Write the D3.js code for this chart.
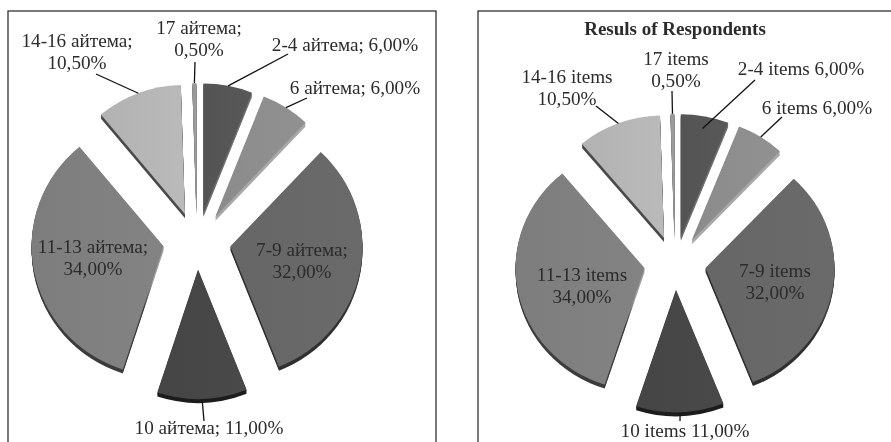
<!DOCTYPE html>
<html>
<head>
<meta charset="utf-8">
<script src="https://cdn.jsdelivr.net/npm/d3@7"></script>
<style>
  html, body { margin: 0; padding: 0; background: #fff; }
  svg { display: block; filter: blur(0.35px); }
  text { font-family: "Liberation Serif", serif; fill: #2b2b2b; }
</style>
</head>
<body>
<svg id="chart" width="891" height="442"></svg>
<script>
// Data ------------------------------------------
var values = [6, 6, 32, 11, 34, 10.5, 0.5];
var percentLabels = ["6,00%", "6,00%", "32,00%", "11,00%", "34,00%", "10,50%", "0,50%"];
var groupsKz = ["2-4 айтема", "6 айтема", "7-9 айтема", "10 айтема", "11-13 айтема", "14-16 айтема", "17 айтема"];
var groupsEn = ["2-4 items", "6 items", "7-9 items", "10 items", "11-13 items", "14-16 items", "17 items"];

// Styles ----------------------------------------
var topColors  = ["#565656", "#8e8e8e", "#686868", "#474747", "#808080", "#b6b6b6", "#9a9a9a"];
var sideLeft   = ["#6f6f6f", "#a8a8a8", "#2f2f2f", "#1c1c1c", "#3c3c3c", "#4a4a4a", "#777777"];
var sideRight  = ["#6f6f6f", "#a8a8a8", "#3a3a3a", "#1c1c1c", "#a0a0a0", "#4a4a4a", "#777777"];

var svg = d3.select("#chart");
var defs = svg.append("defs");
var pie = d3.pie().sort(null).value(function(d) { return d })(values);

// Gradients -------------------------------------
function addGradient(id, stops) {
  var grad = defs.append("linearGradient").attr("id", id);
  stops.forEach(function(s) {
    grad.append("stop").attr("offset", s[0]).attr("stop-color", s[1]);
  });
}
topColors.forEach(function(c, i) {
  addGradient("top" + i, [[0, d3.color(c).darker(0.06)], [1, d3.color(c).brighter(0.06)]]);
  addGradient("side" + i, [[0, sideLeft[i]], [0.85, sideLeft[i]], [0.92, sideRight[i]], [1, sideRight[i]]]);
});

// One panel -------------------------------------
function drawPanel(p) {
  svg.append("rect")
    .attr("x", p.frame[0]).attr("y", p.frame[1])
    .attr("width", p.frame[2]).attr("height", p.frame[3])
    .attr("fill", "none").attr("stroke", "#222").attr("stroke-width", 1.2);

  var arc = d3.arc().innerRadius(0).outerRadius(p.r);
  var g = svg.append("g").attr("transform", "translate(" + p.cx + "," + p.cy + ")");

  function offset(d) {
    var a = (d.startAngle + d.endAngle) / 2;
    return [Math.sin(a) * p.explode, -Math.cos(a) * p.explode * p.explodeY];
  }

  // thickness: stacked copies going down, then the top face
  pie.forEach(function(d, i) {
    var o = offset(d);
    for (var k = p.depth; k >= 0; k--) {
      g.append("path")
        .attr("d", arc(d))
        .attr("transform", "translate(" + o[0] + "," + (o[1] + k) + ") scale(1," + p.squash + ")")
        .attr("fill", "url(#" + (k == 0 ? "top" : "side") + i + ")");
    }
  });

  // leader lines run from the slice edge to the label
  p.leaders.forEach(function(l) {
    var d = pie[l.i], o = offset(d), a = (d.startAngle + d.endAngle) / 2;
    var sx = o[0] + Math.sin(a) * p.r * l.at, sy = o[1] - Math.cos(a) * p.r * l.at * p.squash;
    g.append("line")
      .attr("x1", sx).attr("y1", sy)
      .attr("x2", l.to[0] - p.cx).attr("y2", l.to[1] - p.cy)
      .attr("stroke", "#111").attr("stroke-width", 1.3);
  });

  // labels
  p.labels.forEach(function(l) {
    var t = svg.append("text").attr("text-anchor", "middle").attr("font-size", p.fontSize);
    l.lines.forEach(function(s, j) {
      t.append("tspan").attr("x", l.x).attr("y", l.y + j * p.lineGap).text(s);
    });
  });

  if (p.title) {
    svg.append("text").attr("x", p.title.x).attr("y", p.title.y)
      .attr("text-anchor", "middle").attr("font-size", p.title.size)
      .attr("font-weight", "bold").text(p.title.text);
  }
}

// label text pulled from the lists above
function two(names, i, sep) { return [names[i] + sep, percentLabels[i]]; }
function one(names, i, sep) { return [names[i] + sep + " " + percentLabels[i]]; }

drawPanel({
  frame: [8, 11, 428, 440],
  cx: 197, cy: 241, r: 132, squash: 0.98, explode: 34, explodeY: 0.84, depth: 4,
  fontSize: 19.2, lineGap: 21.5,
  leaders: [
    { i: 0, at: 1, to: [288, 54] },
    { i: 1, at: 1, to: [307, 98] },
    { i: 3, at: 1.02, to: [204, 421] },
    { i: 5, at: 1, to: [96, 74] },
    { i: 6, at: 1, to: [195, 62] }
  ],
  labels: [
    { lines: one(groupsKz, 0, ";"), x: 345, y: 51 },
    { lines: one(groupsKz, 1, ";"), x: 355, y: 94 },
    { lines: two(groupsKz, 2, ";"), x: 302, y: 256 },
    { lines: one(groupsKz, 3, ";"), x: 209, y: 434 },
    { lines: two(groupsKz, 4, ";"), x: 93, y: 253 },
    { lines: two(groupsKz, 5, ";"), x: 77, y: 47 },
    { lines: two(groupsKz, 6, ";"), x: 199, y: 34 }
  ]
});

drawPanel({
  frame: [478, 11, 420, 440],
  cx: 675, cy: 263, r: 129, squash: 0.95, explode: 31, explodeY: 0.86, depth: 4,
  fontSize: 19.2, lineGap: 22,
  title: { text: "Resuls of Respondents", x: 675, y: 35, size: 19 },
  leaders: [
    { i: 0, at: 0.9, to: [755, 80] },
    { i: 1, at: 1, to: [782, 117] },
    { i: 3, at: 1.02, to: [680, 421] },
    { i: 5, at: 1, to: [596, 106] },
    { i: 6, at: 1, to: [672, 91] }
  ],
  labels: [
    { lines: one(groupsEn, 0, ""), x: 801, y: 75 },
    { lines: one(groupsEn, 1, ""), x: 817, y: 114 },
    { lines: two(groupsEn, 2, ""), x: 775, y: 277 },
    { lines: one(groupsEn, 3, ""), x: 685, y: 437 },
    { lines: two(groupsEn, 4, ""), x: 582, y: 281 },
    { lines: two(groupsEn, 5, ""), x: 567, y: 83 },
    { lines: two(groupsEn, 6, ""), x: 676, y: 65 }
  ]
});
</script>
</body>
</html>
